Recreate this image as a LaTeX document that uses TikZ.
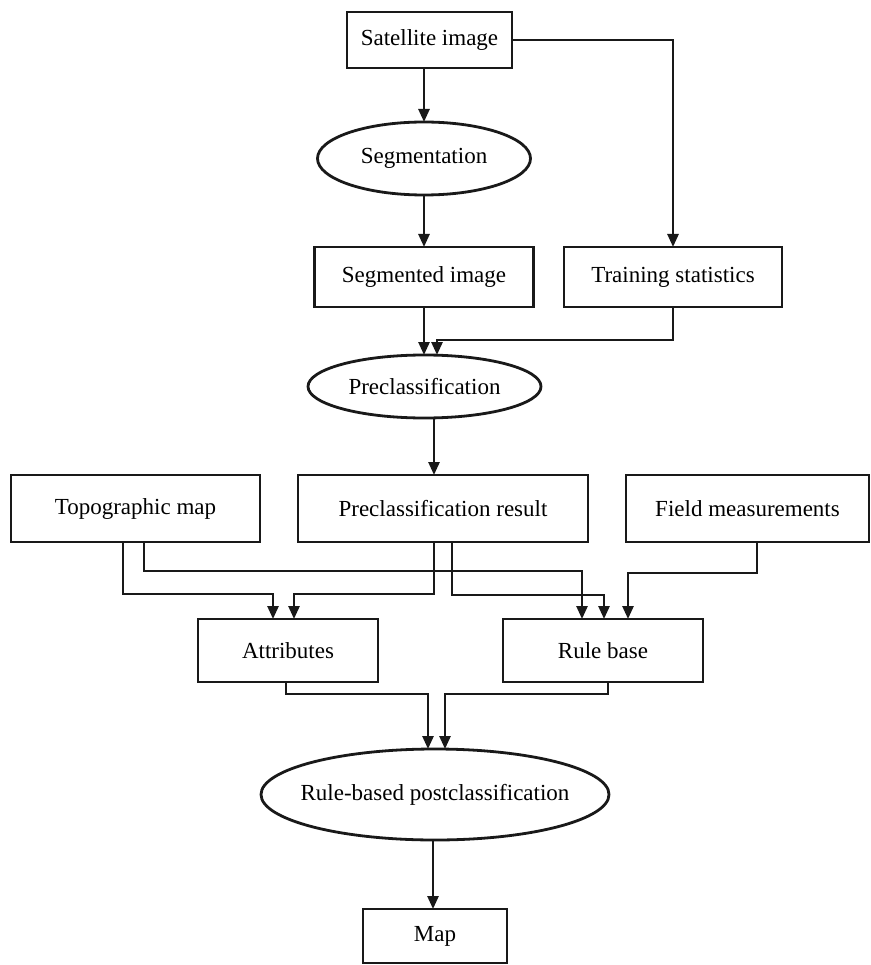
\documentclass[tikz,border=0pt]{standalone}
\usepackage{fontspec}
\setmainfont{Liberation Serif}
\usetikzlibrary{shapes.geometric,arrows.meta}
\begin{document}
\begin{tikzpicture}[x=1pt,y=-1pt,
  every node/.style={font=\fontsize{23}{27}\selectfont, text=black},
  boxnode/.style={draw=black!90, line width=2.8pt, rectangle, inner sep=0pt, outer sep=0pt},
  ellnode/.style={draw=black!90, line width=2.8pt, ellipse, inner sep=0pt, outer sep=0pt},
  arr/.style={draw=black!90, line width=2.6pt, -{Triangle[length=13pt,width=11pt]}},
]
\useasboundingbox (0,0) rectangle (870,965);

\node[boxnode, minimum width=165pt, minimum height=56pt] (sat) at (429.5,40) {Satellite image};
\node[ellnode, minimum width=213pt, minimum height=73pt] (seg) at (424,158.5) {\makebox[0pt]{Segmentation}};
\node[boxnode, minimum width=219pt, minimum height=60pt] (segimg) at (424,277) {Segmented image};
\node[boxnode, minimum width=218pt, minimum height=60pt] (train) at (673,277) {Training statistics};
\node[ellnode, minimum width=233pt, minimum height=63pt] (pre) at (424.5,386.5) {\makebox[0pt]{Preclassification}};
\node[boxnode, minimum width=249pt, minimum height=67pt] (topo) at (135.5,508.5) {Topographic map};
\node[boxnode, minimum width=290pt, minimum height=67pt] (preres) at (443,508.5) {Preclassification result};
\node[boxnode, minimum width=243pt, minimum height=67pt] (field) at (747.5,508.5) {Field measurements};
\node[boxnode, minimum width=180pt, minimum height=63pt] (attr) at (288,650.5) {Attributes};
\node[boxnode, minimum width=200pt, minimum height=63pt] (rule) at (603,650.5) {Rule base};
\node[ellnode, minimum width=348pt, minimum height=91pt] (post) at (435,794.5) {\makebox[0pt]{Rule-based postclassification}};
\node[boxnode, minimum width=144pt, minimum height=54pt] (map) at (435,936) {Map};

% top part
\draw[arr] (sat.south -| seg.north) -- (seg.north);
\draw[arr] (sat.east) -| (train.north);
\draw[arr] (seg.south) -- (segimg.north);
\draw[arr] (segimg.south) -- (segimg.south |- pre.north);
\draw[arr] (train.south) -- ++(0,33) -| ([xshift=12.5]pre.north);
\draw[arr] ([xshift=9.5]pre.south) -- ([xshift=-9]preres.north);

% middle part
\draw[arr] ([xshift=-12.5]topo.south) -- ++(0,52) -| ([xshift=-15]attr.north);
\draw[arr] ([xshift=8.5]topo.south) -- ++(0,29) -| ([xshift=-21]rule.north);
\draw[arr] ([xshift=-9]preres.south) -- ++(0,52) -| ([xshift=6]attr.north);
\draw[arr] ([xshift=9]preres.south) -- ++(0,53) -| ([xshift=1]rule.north);
\draw[arr] ([xshift=9.5]field.south) -- ++(0,31) -| ([xshift=25]rule.north);

% bottom part
\draw[arr] ([xshift=-2]attr.south) -- ++(0,12) -| ([xshift=-7]post.north);
\draw[arr] ([xshift=5]rule.south) -- ++(0,12) -| ([xshift=10]post.north);
\draw[arr] ([xshift=-2]post.south) -- ([xshift=-2]map.north);
\end{tikzpicture}
\end{document}
